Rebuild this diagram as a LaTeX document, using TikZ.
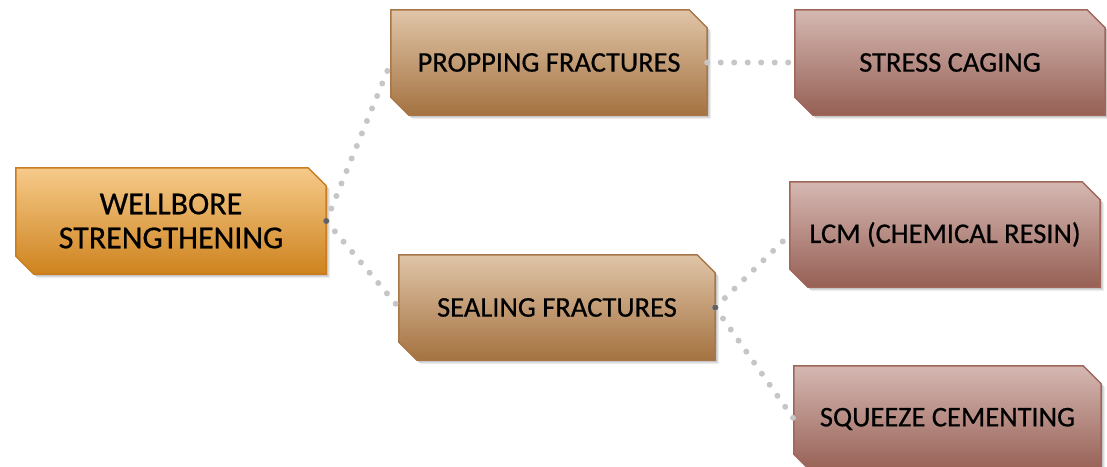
\documentclass[tikz,border=0pt]{standalone}
\usepackage{fontspec}
\setmainfont{Carlito}[FakeBold=0.6]
\pgfdeclarelayer{boxlayer}
\pgfsetlayers{boxlayer,main}
\definecolor{orTop}{RGB}{246,202,138}
\definecolor{orBot}{RGB}{206,131,30}
\definecolor{orLine}{RGB}{201,125,30}
\definecolor{brTop}{RGB}{224,197,168}
\definecolor{brBot}{RGB}{164,114,64}
\definecolor{brLine}{RGB}{168,118,72}
\definecolor{rdTop}{RGB}{213,184,178}
\definecolor{rdBot}{RGB}{150,95,84}
\definecolor{rdLine}{RGB}{160,102,90}
\newcommand\cutbox[4]{%
  \foreach \o/\a in {4/0.06,3/0.08,2/0.10}{%
    \fill[black,opacity=\a]
      ([shift={(\o pt,-\o pt)}]#1.north west) -- ([shift={(\o pt-18pt,-\o pt)}]#1.north east) --
      ([shift={(\o pt,-\o pt-18pt)}]#1.north east) -- ([shift={(\o pt,-\o pt)}]#1.south east) --
      ([shift={(\o pt+18pt,-\o pt)}]#1.south west) -- ([shift={(\o pt,18pt-\o pt)}]#1.south west) -- cycle;}
  \draw[line width=1.5pt,draw=#4,top color=#2,bottom color=#3]
    (#1.north west) -- ([xshift=-18pt]#1.north east) -- ([yshift=-18pt]#1.north east) --
    (#1.south east) -- ([xshift=18pt]#1.south west) -- ([yshift=18pt]#1.south west) -- cycle;}
\begin{document}
\begin{tikzpicture}[x=1pt,y=-1pt,
  txt/.style={inner sep=0pt,align=center,text=black,font=\fontsize{28.5}{34}\selectfont,minimum height=105pt},
  conn/.style={draw=gray!45,line width=6pt,line cap=round,dash pattern=on 0pt off 13.5pt},
  startdot/.style={fill=black!62}]
\useasboundingbox (0,0) rectangle (1107,466);
\node[txt,minimum width=310pt,minimum height=106pt,font=\fontsize{32}{34}\selectfont] (w) at (171,221) {WELLBORE\\STRENGTHENING};
\node[txt,minimum width=316pt] (p) at (549,62.5) {PROPPING FRACTURES};
\node[txt,minimum width=316pt] (s) at (557,307.5) {SEALING FRACTURES};
\node[txt,minimum width=310pt] (sc) at (950,62.5) {STRESS CAGING};
\node[txt,minimum width=310pt] (lcm) at (945,234.5) {LCM (CHEMICAL RESIN)};
\node[txt,minimum width=307pt,minimum height=106pt] (sq) at (947.5,419) {SQUEEZE CEMENTING};
\begin{pgfonlayer}{boxlayer}
\cutbox{w}{orTop}{orBot}{orLine}
\cutbox{p}{brTop}{brBot}{brLine}
\cutbox{s}{brTop}{brBot}{brLine}
\cutbox{sc}{rdTop}{rdBot}{rdLine}
\cutbox{lcm}{rdTop}{rdBot}{rdLine}
\cutbox{sq}{rdTop}{rdBot}{rdLine}
\end{pgfonlayer}
\draw[conn] (w.east) -- (p.west);
\draw[conn] (w.east) -- (s.west);
\draw[conn] (p.east) -- (sc.west);
\draw[conn] (s.east) -- (lcm.west);
\draw[conn] (s.east) -- (sq.west);
\fill[startdot] (w.east) circle (3pt);
\fill[startdot] (s.east) circle (3pt);
\end{tikzpicture}
\end{document}
